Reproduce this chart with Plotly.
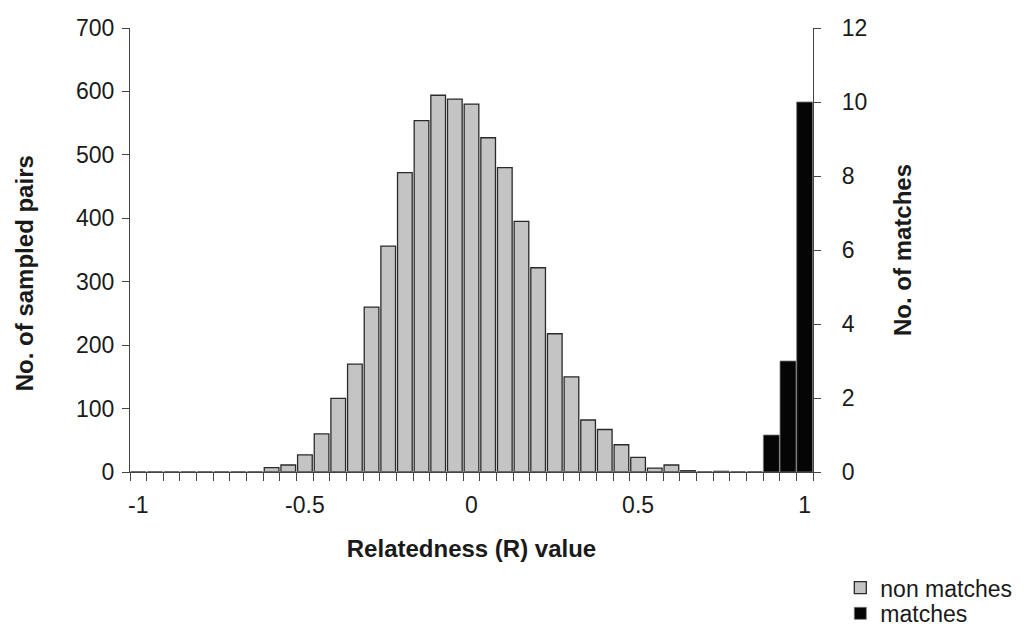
import plotly.graph_objects as go

# Relatedness bins (category centres)
r_values = [-1.0, -0.95, -0.9, -0.85, -0.8, -0.75, -0.7, -0.65, -0.6, -0.55,
            -0.5, -0.45, -0.4, -0.35, -0.3, -0.25, -0.2, -0.15, -0.1, -0.05,
            0.0, 0.05, 0.1, 0.15, 0.2, 0.25, 0.3, 0.35, 0.4, 0.45,
            0.5, 0.55, 0.6, 0.65, 0.7, 0.75, 0.8, 0.85, 0.9, 0.95, 1.0]

# No. of sampled pairs (non matches), left axis
non_matches = [0, 0, 0, 0, 0, 0, 0, 0, 7, 11,
               27, 60, 116, 170, 260, 356, 472, 554, 594, 588,
               580, 527, 480, 395, 322, 218, 150, 82, 67, 43,
               23, 6, 11, 2, 0, 1, 0, 0, 0, 0, 0]

# No. of matches, right axis
matches = [0, 0, 0, 0, 0, 0, 0, 0, 0, 0,
           0, 0, 0, 0, 0, 0, 0, 0, 0, 0,
           0, 0, 0, 0, 0, 0, 0, 0, 0, 0,
           0, 0, 0, 0, 0, 0, 0, 0, 1, 3, 10]

x_tick_vals = [-1, -0.5, 0, 0.5, 1]
x_tick_text = ["-1", "-0.5", "0", "0.5", "1"]
left_ticks = [0, 100, 200, 300, 400, 500, 600, 700]
right_ticks = [0, 2, 4, 6, 8, 10, 12]

FONT = "Liberation Sans, Arial, sans-serif"
INK = "#1a1a1a"
AX = "#444444"

fig = go.Figure()
fig.add_trace(go.Bar(
    x=r_values, y=non_matches, name="non matches", yaxis="y",
    width=0.044, legend="legend",
    marker=dict(color="#c4c4c4", line=dict(color="#2a2a2a", width=1.3)),
))
fig.add_trace(go.Bar(
    x=r_values, y=matches, name="matches", yaxis="y2",
    width=0.048, legend="legend2",
    marker=dict(color="#050505", line=dict(color="#777777", width=0.8)),
))

legend_common = dict(xanchor="left", yanchor="top", bgcolor="rgba(0,0,0,0)",
                     font=dict(family=FONT, size=23, color=INK), itemwidth=30)

fig.update_layout(
    width=1027, height=634,
    margin=dict(l=130, r=214, t=28, b=162, autoexpand=False),
    paper_bgcolor="white", plot_bgcolor="white",
    barmode="overlay",
    font=dict(family=FONT, size=23, color=INK),
    showlegend=True,
    legend=dict(x=1.040, y=-0.212, **legend_common),
    legend2=dict(x=1.040, y=-0.270, **legend_common),
    xaxis=dict(
        range=[-1.025, 1.025], tickmode="array", tickvals=x_tick_vals,
        ticktext=x_tick_text, ticks="", showgrid=False, zeroline=False,
        showline=True, linecolor=AX, linewidth=1.2,
        ticklabelstandoff=12,
        tickfont=dict(family=FONT, size=23, color=INK),
        minor=dict(tickmode="linear", tick0=-1.025, dtick=0.05,
                   ticks="outside", ticklen=8, tickwidth=1.2,
                   tickcolor=AX, showgrid=False),
        title=dict(text="<b>Relatedness (R) value</b>", standoff=23,
                   font=dict(family=FONT, size=24, color=INK)),
    ),
    yaxis=dict(
        range=[0, 700], tickmode="array", tickvals=left_ticks,
        ticks="outside", ticklen=7, tickwidth=1.2, tickcolor=AX,
        showgrid=False, zeroline=False, showline=True,
        linecolor=AX, linewidth=1.2, ticklabelstandoff=3,
        tickfont=dict(family=FONT, size=23, color=INK),
    ),
    yaxis2=dict(
        range=[0, 12], tickmode="array", tickvals=right_ticks,
        overlaying="y", side="right", anchor="x",
        ticks="outside", ticklen=7, tickwidth=1.2, tickcolor=AX,
        showgrid=False, zeroline=False, showline=True,
        linecolor=AX, linewidth=1.2, ticklabelstandoff=16,
        tickfont=dict(family=FONT, size=23, color=INK),
        title=dict(text="<b>No. of matches</b>", standoff=27,
                   font=dict(family=FONT, size=24, color=INK)),
    ),
    annotations=[dict(
        text="<b>No. of sampled pairs</b>", textangle=-90,
        xref="paper", yref="paper", x=-0.155, y=0.448,
        xanchor="center", yanchor="middle", showarrow=False,
        font=dict(family=FONT, size=24, color=INK),
    )],
)

fig.write_html("out.html")
